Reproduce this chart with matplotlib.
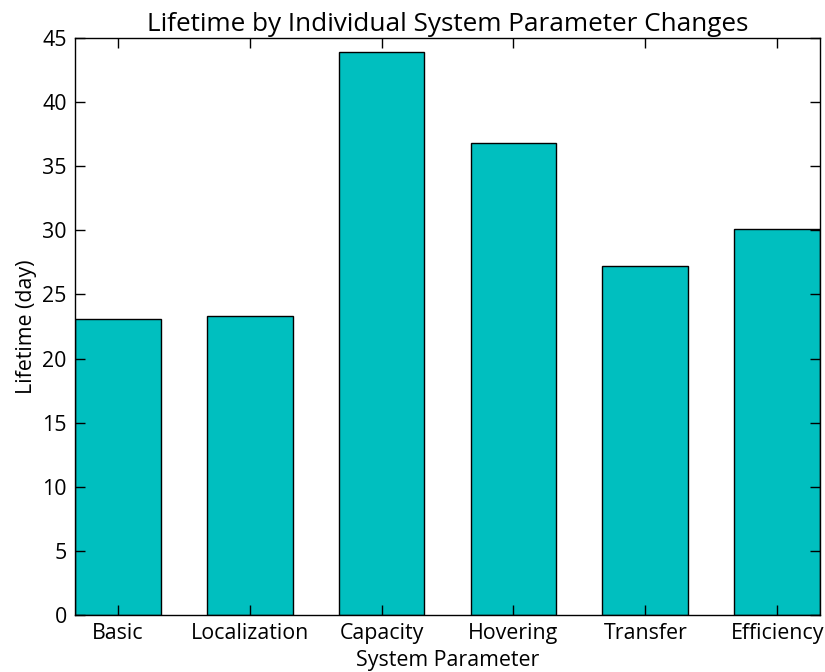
import matplotlib
matplotlib.use("Agg")
import matplotlib.pyplot as plt
import numpy as np

categories = ["Basic", "Localization", "Capacity", "Hovering", "Transfer", "Efficiency"]
lifetimes = [23.1, 23.3, 43.9, 36.8, 27.2, 30.1]

plt.rcParams['font.family'] = ['Open Sans', 'DejaVu Sans']

fig = plt.figure(figsize=(8.25, 6.72), dpi=100)
ax = fig.add_axes([0.0909, 0.0848, 0.9031, 0.8587])
w = 0.65
x = np.arange(len(categories))
ax.bar(x, lifetimes, width=w, align='edge', color='c', edgecolor='black', linewidth=1.0)
ax.set_xlim(0, len(categories) - 1 + w)
ax.set_ylim(0, 45)
ax.set_xticks(x + w / 2)
ax.set_xticklabels(categories, fontsize=15.4)
ax.set_yticks(np.arange(0, 46, 5))
ax.tick_params(axis='y', labelsize=15.4)
ax.tick_params(direction='in', top=True, right=True, length=7, width=1, pad=6)
ax.set_xlabel("System Parameter", fontsize=15.4, labelpad=4)
ax.set_ylabel("Lifetime (day)", fontsize=15.4)
ax.set_title("Lifetime by Individual System Parameter Changes", fontsize=18.8, pad=5)
for s in ax.spines.values():
    s.set_linewidth(1.0)
fig.savefig("out.png", dpi=100)
